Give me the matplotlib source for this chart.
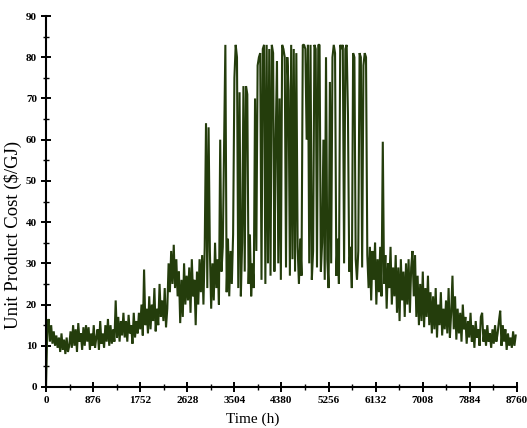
import numpy as np
import matplotlib
matplotlib.use('Agg')
import matplotlib.pyplot as plt
from matplotlib.ticker import MultipleLocator

# one sample per day (every 24 h), values in $/GJ
cost = [
    0, 14, 16.5, 11, 15, 10.5, 13.5, 10, 12.5, 9.5,
    12, 8.5, 13, 9, 11.5, 8, 12, 8.5, 10, 13.5,
    9.5, 15, 10, 14, 8.5, 15.5, 11, 13, 9, 14.5,
    10, 15, 11, 14.5, 9, 13, 10, 15, 9.5, 12,
    14, 9, 16, 10.5, 13, 9.5, 15, 11, 16.5, 10,
    15, 10.5, 14, 11, 21, 12, 17, 11, 16, 12.5,
    18, 12, 16, 11, 17.5, 13, 15, 10.5, 18, 12,
    16, 13, 18, 14, 20, 12.5, 28.5, 15, 19, 13,
    22, 14, 20, 16, 24, 13.5, 19, 15, 25, 17,
    21, 16, 24, 14.5, 19, 30, 23, 33, 25, 34.5,
    24, 31, 22, 28, 15.5, 26, 17, 30, 20, 27,
    21, 29, 18, 31, 22, 26, 15, 28, 20, 31,
    23, 32, 20, 34, 64, 24, 63, 33, 19, 30,
    21, 35, 24, 31, 20, 60, 28, 34, 58, 83,
    23, 36, 22, 33, 25, 37, 75, 83, 80, 24,
    71.5, 22, 35, 73, 28, 73, 71, 25, 37, 22,
    30, 24, 70, 33, 78, 80, 81, 26, 82, 83,
    25, 83, 30, 82, 27, 83, 81, 28, 60, 79,
    30, 70, 26, 83, 82, 80, 29, 80, 72, 27,
    83, 31, 82, 28, 81, 34, 25, 36, 27, 83,
    83, 82, 60, 83, 30, 83, 26, 33, 83, 82,
    29, 83, 83, 28, 35, 60, 26, 80, 31, 24,
    74, 30, 80, 83, 81, 27, 36, 25, 83, 82,
    83, 30, 82, 83, 66, 28, 34, 24, 81, 80,
    31, 26, 33, 81, 80, 29, 78, 81, 80, 32,
    24, 34, 21, 33, 26, 35, 20, 31, 23, 34,
    22, 59.5, 25, 32, 19, 30, 24, 34, 20, 29,
    22, 32, 18, 29, 16, 31, 21, 28, 17, 30,
    20, 31, 18, 29, 33, 22, 32, 17, 27, 15,
    25, 16, 28, 14.5, 24, 17, 27, 15, 23, 13,
    22, 14, 24, 12, 20, 15, 23, 12.5, 19, 14,
    21, 13, 24, 12, 18, 27, 14, 22, 11.5, 19,
    13, 18, 11, 20, 14, 17, 10.5, 16, 12, 18,
    11, 15, 9.5, 16, 12, 14, 10, 17, 18, 11,
    14, 10, 15, 11, 13, 9.5, 14, 10.5, 15, 11,
    13, 16, 18.5, 10, 15, 11, 14, 9, 13, 10,
    12, 9.5, 13.5, 10, 12.5,
]
hours = np.arange(len(cost)) * 24

x_ticks = [0, 876, 1752, 2628, 3504, 4380, 5256, 6132, 7008, 7884, 8760]

plt.rcParams['font.family'] = 'Liberation Serif'

fig = plt.figure(figsize=(5.27, 4.28), dpi=100)
ax = fig.add_axes([0.0873, 0.0958, 0.8937, 0.8668])

ax.plot(hours, cost, color='#243d0c', lw=1.5, solid_joinstyle='bevel')

ax.set_xlim(0, 8760)
ax.set_ylim(0, 90)
ax.set_xticks(x_ticks)
ax.xaxis.set_minor_locator(MultipleLocator(438))
ax.yaxis.set_major_locator(MultipleLocator(10))
ax.yaxis.set_minor_locator(MultipleLocator(5))

for s in ['top', 'right']:
    ax.spines[s].set_visible(False)
for s in ['left', 'bottom']:
    ax.spines[s].set_linewidth(1.5)

ax.tick_params(which='major', direction='inout', length=7, width=1.4, pad=3,
               labelsize=8)
ax.tick_params(which='minor', direction='inout', length=4, width=1.0)
for lab in ax.get_xticklabels() + ax.get_yticklabels():
    lab.set_fontweight('bold')

ax.set_xlabel('Time (h)', fontsize=11)
ax.set_ylabel('Unit Product Cost ($/GJ)', fontsize=13.5)
ax.xaxis.set_label_coords(0.438, -0.068)
ax.yaxis.set_label_coords(-0.052, 0.41)

fig.savefig('out.png', dpi=100)
